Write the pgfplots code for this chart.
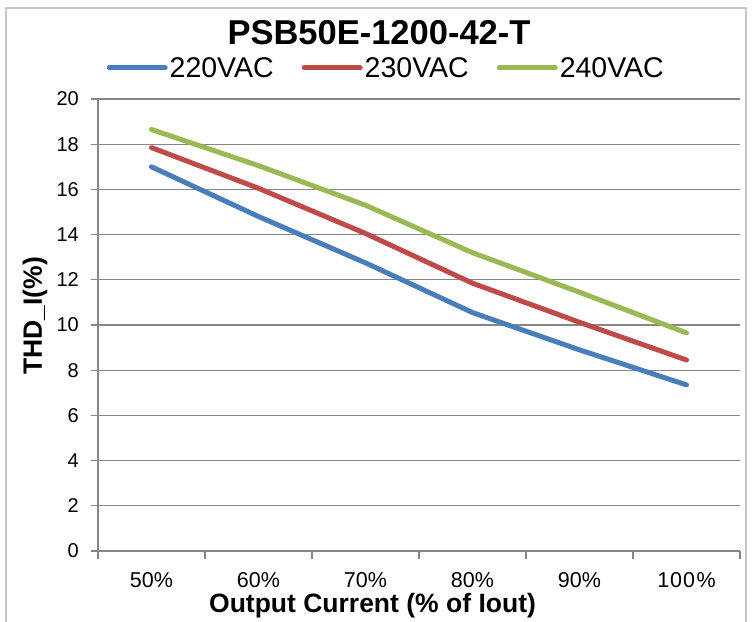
\documentclass[border=0pt]{standalone}
\usepackage{pgfplots}
\pgfplotsset{compat=1.18}
\usepackage{fontspec}
\setmainfont{Liberation Sans}

\definecolor{s220}{RGB}{74,126,187}
\definecolor{s230}{RGB}{190,75,72}
\definecolor{s240}{RGB}{152,185,84}
\definecolor{gridgray}{RGB}{134,134,134}
\definecolor{framegray}{RGB}{200,200,200}

\begin{document}
\begin{tikzpicture}
\useasboundingbox (-98pt,-70pt) rectangle (656pt,551pt);
\draw[framegray, line width=1.5pt] (-92pt,-90pt) rectangle (648pt,543pt);

\begin{axis}[
    scale only axis,
    width=642pt, height=452pt,
    at={(0,0)}, anchor=south west,
    xmin=-0.5, xmax=5.5,
    ymin=0, ymax=20,
    ytick={0,2,...,20},
    xtick={0,...,5},
    xticklabels={50\%,60\%,70\%,80\%,90\%,1\kern1pt0\kern1pt0\kern1.5pt\%},
    minor xtick={-0.5,0.5,...,5.5},
    axis lines=left,
    axis line style={gridgray, line width=1.2pt, -},
    ymajorgrids,
    major grid style={gridgray, line width=1.2pt},
    tick style={gridgray, line width=1.2pt},
    tick align=outside,
    major tick length=7pt,
    minor tick length=8pt,
    xtick style={draw=none},
    minor x tick style={draw=gridgray, line width=1.2pt},
    /pgf/number format/assume math mode=true,
    yticklabel style={font=\fontsize{20}{22}\selectfont, anchor=east, inner sep=0pt, xshift=-12pt},
    xticklabel style={font=\fontsize{21.5}{23}\selectfont, anchor=base, inner sep=0pt, yshift=-29pt},
    title={PSB50E-1200-42-T},
    title style={font=\fontsize{34.5}{36}\bfseries, at={(axis description cs:0.4377,1.133)}, anchor=center},
    xlabel={Output Current (\% of Iout)},
    xlabel style={font=\fontsize{26.5}{28}\bfseries, at={(axis description cs:0.4276,-0.137)}, anchor=base},
    ylabel={THD\_I(\%)},
    ylabel style={font=\fontsize{26.5}{28}\bfseries, at={(axis description cs:-0.0981,0.52)}, anchor=center},
    legend columns=3,
    legend style={draw=none, fill=none, font=\fontsize{28.5}{30}\selectfont,
        at={(axis description cs:0.449,1.0686)}, anchor=center,
        /tikz/every odd column/.append style={column sep=0pt},
        /tikz/every even column/.append style={column sep=26pt}},
    legend image code/.code={\draw[#1, line cap=round] (0pt,0pt) -- (56pt,0pt);},
    every axis plot/.append style={line width=5pt, line cap=round, line join=round},
]
\addplot[s220] coordinates {(0,17.0) (1,14.8) (2,12.75) (3,10.55) (4,8.9) (5,7.35)};
\addlegendentry{220VAC}
\addplot[s230] coordinates {(0,17.85) (1,16.05) (2,14.05) (3,11.85) (4,10.12) (5,8.45)};
\addlegendentry{230VAC}
\addplot[s240] coordinates {(0,18.65) (1,17.05) (2,15.3) (3,13.2) (4,11.45) (5,9.65)};
\addlegendentry{240VAC}
\end{axis}
\end{tikzpicture}
\end{document}
